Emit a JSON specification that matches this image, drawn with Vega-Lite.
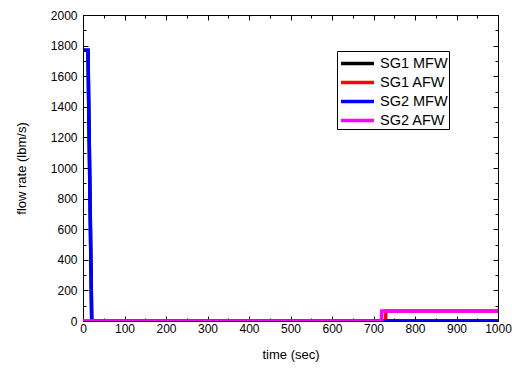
{
  "$schema": "https://vega.github.io/schema/vega-lite/v6.json",
  "width": 415,
  "height": 306,
  "autosize": "none",
  "padding": {"left": 83, "top": 15, "right": 20, "bottom": 48},
  "background": "white",
  "config": {
    "view": {"stroke": "black", "strokeWidth": 1},
    "font": "Liberation Sans",
    "axis": {"labelFont": "Liberation Sans", "titleFont": "Liberation Sans", "labelFontSize": 12, "titleFontSize": 13, "titleFontWeight": "normal", "labelColor": "black", "titleColor": "black", "domainColor": "black", "tickColor": "black", "grid": false, "format": "d", "labelFlush": false, "labelOverlap": false}
  },
  "data": {
    "values": [
      {"series": "SG1 MFW", "t": 2, "v": 1770},
      {"series": "SG1 MFW", "t": 12, "v": 1770},
      {"series": "SG1 MFW", "t": 21, "v": 0},
      {"series": "SG1 MFW", "t": 1000, "v": 0},
      {"series": "SG1 AFW", "t": 0, "v": 0},
      {"series": "SG1 AFW", "t": 729, "v": 0},
      {"series": "SG1 AFW", "t": 730, "v": 65},
      {"series": "SG1 AFW", "t": 1000, "v": 65},
      {"series": "SG2 MFW", "t": 2, "v": 1770},
      {"series": "SG2 MFW", "t": 12, "v": 1770},
      {"series": "SG2 MFW", "t": 21, "v": 0},
      {"series": "SG2 MFW", "t": 1000, "v": 0},
      {"series": "SG2 AFW", "t": 0, "v": 0},
      {"series": "SG2 AFW", "t": 719, "v": 0},
      {"series": "SG2 AFW", "t": 720, "v": 65},
      {"series": "SG2 AFW", "t": 1000, "v": 65}
    ]
  },
  "layer": [
    {
      "mark": {"type": "line", "strokeWidth": 3.5, "clip": true},
      "encoding": {
        "x": {"field": "t", "type": "quantitative", "scale": {"domain": [0, 1000], "nice": false},
          "axis": {"orient": "bottom", "title": "time (sec)", "values": [0,50,100,150,200,250,300,350,400,450,500,550,600,650,700,750,800,850,900,950,1000],
            "labelExpr": "datum.value % 100 === 0 ? datum.label : ''",
            "tickSize": {"condition": {"test": "datum.value % 100 === 0", "value": -5}, "value": -3},
            "labelPadding": 7, "titlePadding": 12}},
        "y": {"field": "v", "type": "quantitative", "scale": {"domain": [0, 2000], "nice": false},
          "axis": {"orient": "left", "title": "flow rate (lbm/s)", "values": [0,100,200,300,400,500,600,700,800,900,1000,1100,1200,1300,1400,1500,1600,1700,1800,1900,2000],
            "labelExpr": "datum.value % 200 === 0 ? datum.label : ''",
            "tickSize": {"condition": {"test": "datum.value % 200 === 0", "value": -5}, "value": -3},
            "labelPadding": 11, "titlePadding": 22}},
        "color": {"field": "series", "type": "nominal",
          "scale": {"domain": ["SG1 MFW", "SG1 AFW", "SG2 MFW", "SG2 AFW"], "range": ["black", "#ff0000", "#0000ff", "#ff00ff"]},
          "legend": {"title": null, "orient": "none", "legendX": 254, "legendY": 36, "symbolType": "M-1.76,0H1.76", "symbolStrokeWidth": 3.5, "symbolSize": 350, "symbolOffset": 8, "labelOffset": 11, "labelFontSize": 14.5, "labelFont": "Liberation Sans", "strokeColor": "black", "padding": 1, "fillColor": "white", "rowPadding": 0, "labelColor": "black"}},
        "order": {"field": "t", "type": "quantitative"}
      }
    },
    {
      "mark": {"type": "line", "opacity": 0},
      "encoding": {
        "x": {"field": "t", "type": "quantitative",
          "axis": {"orient": "top", "title": null, "labels": false, "domain": false, "values": [0,50,100,150,200,250,300,350,400,450,500,550,600,650,700,750,800,850,900,950,1000],
            "tickSize": {"condition": {"test": "datum.value % 100 === 0", "value": -5}, "value": -3}}},
        "y": {"field": "v", "type": "quantitative",
          "axis": {"orient": "right", "title": null, "labels": false, "domain": false, "values": [0,100,200,300,400,500,600,700,800,900,1000,1100,1200,1300,1400,1500,1600,1700,1800,1900,2000],
            "tickSize": {"condition": {"test": "datum.value % 200 === 0", "value": -5}, "value": -3}}}
      }
    }
  ],
  "resolve": {"axis": {"x": "independent", "y": "independent"}}
}
